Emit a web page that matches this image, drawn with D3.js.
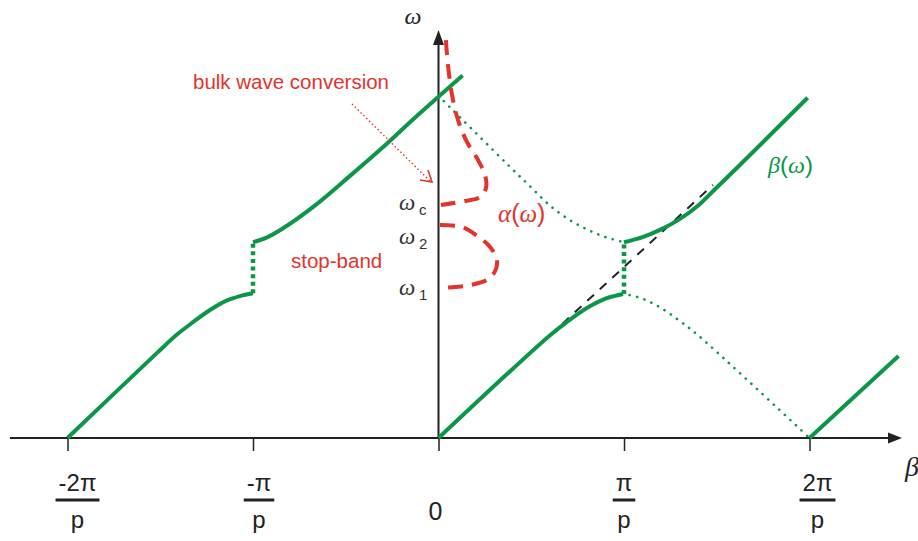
<!DOCTYPE html>
<meta charset="utf-8">
<html>
<head>
    <title>Dispersion diagram with stop-band</title>
    <script src="https://d3js.org/d3.v7.min.js"></script>
    <style>
        body { margin: 0; background: #fff; }
        text { font-family: "Liberation Sans", Arial, sans-serif; }
        .greek { font-family: "Liberation Serif", "DejaVu Serif", serif; font-style: italic; }
    </style>
</head>
<body>
<svg id="chart"></svg>
<script>
    // beta in units of pi/p, omega normalised so that the light line is omega = beta
    var lowerRight = [[0, 0], [0.6, 0.6], [0.7, 0.685], [0.8, 0.76], [0.9, 0.815], [0.995, 0.842]];
    var upperRight = [[1.0, 1.145], [1.1, 1.175], [1.2, 1.22], [1.3, 1.28], [1.4, 1.36], [1.5, 1.465], [1.6, 1.57], [1.99, 1.99]];
    var lowerLeft = [[-2, 0], [-1.52, 0.495], [-1.41, 0.605], [-1.32, 0.68], [-1.23, 0.75], [-1.14, 0.805], [-1.07, 0.83], [-1.0, 0.846]];
    var upperLeft = [[-1.0, 1.145], [-0.93, 1.17], [-0.84, 1.225], [-0.66, 1.365], [-0.48, 1.53], [-0.3, 1.7], [-0.12, 1.88], [0.13, 2.12]];
    var nextBand = [[2.0, 0], [2.48, 0.48]];
    var lightLine = [[0.6, 0.6], [1.48, 1.48]];

    // attenuation alpha(omega), alpha in the same units as beta
    var alphaLeaky = [[0.040, 2.327], [0.051, 2.181], [0.073, 2.006], [0.105, 1.86], [0.154, 1.73], [0.213, 1.626],
                      [0.251, 1.537], [0.256, 1.462], [0.224, 1.409], [0.143, 1.386], [0.013, 1.363]];
    var alphaStop = [[0.008, 1.245], [0.127, 1.234], [0.202, 1.187], [0.278, 1.117], [0.315, 1.041], [0.305, 0.976],
                     [0.261, 0.924], [0.17, 0.894], [0.089, 0.883], [0.013, 0.877]];

    var omegaMarks = [{sub: "c", w: 1.37}, {sub: "2", w: 1.17}, {sub: "1", w: 0.87}];

    var tickValues = [-2, -1, 0, 1, 2];
    var tickTop = ["-2π", "-π", "0", "π", "2π"];
    var tickBottom = ["p", "p", "", "p", "p"];
    var labelShift = [10, 6, -3, 0, 8];

    var green = "#0c9647", red = "#e2332c";
    var width = 918, height = 541;

    var svg = d3.select("#chart")
        .attr("width", width)
        .attr("height", height);

    var x = d3.scaleLinear().domain([0, 1]).range([438.5, 624]);
    var y = d3.scaleLinear().domain([0, 1]).range([438, 267]);

    var line = d3.line()
        .x(function(d) { return x(d[0]); })
        .y(function(d) { return y(d[1]); })
        .curve(d3.curveCatmullRom.alpha(0.5));

    // mirror a branch around beta = 1 (zone boundary)
    function mirror(arr) {
        return arr.map(function(d) { return [2 - d[0], d[1]]; }).reverse();
    }

    // axes
    var axisG = svg.append("g").attr("transform", "translate(0," + y(0) + ")");
    axisG.call(d3.axisBottom(x).tickValues(tickValues).tickSize(13).tickFormat(""))
        .call(function(g) { g.select(".domain").remove(); })
        .selectAll("line").attr("stroke", "#222").attr("stroke-width", 1.5);

    svg.append("line")
        .attr("x1", 10).attr("x2", 890)
        .attr("y1", y(0)).attr("y2", y(0))
        .attr("stroke", "#222").attr("stroke-width", 2);
    svg.append("path")
        .attr("d", "M902," + y(0) + "L888," + (y(0) - 5.5) + "L888," + (y(0) + 5.5) + "Z")
        .attr("fill", "#222");

    svg.append("line")
        .attr("x1", x(0)).attr("x2", x(0))
        .attr("y1", y(0)).attr("y2", 44)
        .attr("stroke", "#222").attr("stroke-width", 2);
    svg.append("path")
        .attr("d", "M" + x(0) + ",30L" + (x(0) - 5.5) + ",45L" + (x(0) + 5.5) + ",45Z")
        .attr("fill", "#222");

    // tick labels as fractions
    var tl = svg.append("g").selectAll("g")
        .data(tickValues)
        .enter().append("g")
        .attr("transform", function(d, i) { return "translate(" + (x(d) + labelShift[i]) + ",0)"; });

    tl.each(function(d, i) {
        var g = d3.select(this);
        if (tickBottom[i] === "") {
            g.append("text").attr("y", 520).attr("text-anchor", "middle")
                .style("font-size", "25px").attr("fill", "#222").text(tickTop[i]);
            return;
        }
        var t = g.append("text").attr("y", 491).attr("text-anchor", "middle")
            .style("font-size", "24px").attr("fill", "#222").text(tickTop[i]);
        var w = t.node().getComputedTextLength() + 6;
        g.append("line").attr("x1", -w / 2).attr("x2", w / 2)
            .attr("y1", 500).attr("y2", 500)
            .attr("stroke", "#222").attr("stroke-width", 3);
        g.append("text").attr("y", 528).attr("text-anchor", "middle")
            .style("font-size", "24px").attr("fill", "#222").text(tickBottom[i]);
    });

    svg.append("text").attr("class", "greek")
        .attr("x", 905).attr("y", 476)
        .style("font-size", "28px").attr("fill", "#222").text("β");
    svg.append("text").attr("class", "greek")
        .attr("x", 413).attr("y", 24).attr("text-anchor", "middle")
        .style("font-size", "24px").attr("fill", "#222").text("ω");

    // black dashed light line
    svg.append("path").datum(lightLine)
        .attr("d", line)
        .attr("fill", "none").attr("stroke", "#222")
        .attr("stroke-width", 2).attr("stroke-dasharray", "9 8");

    // green dotted mirrored branches
    [mirror(upperRight), mirror(lowerRight)].forEach(function(arr) {
        svg.append("path").datum(arr)
            .attr("d", line)
            .attr("fill", "none").attr("stroke", green)
            .attr("stroke-width", 2.6).attr("stroke-linecap", "round")
            .attr("stroke-dasharray", "0.1 7.5")
            .attr("stroke-dashoffset", -5);
    });

    // stop-band edges
    [[-1, lowerLeft, upperLeft], [1, lowerRight, upperRight]].forEach(function(s) {
        var lo = s[1][s[1].length - 1][1], hi = s[2][0][1];
        svg.append("line")
            .attr("x1", x(s[0])).attr("x2", x(s[0]))
            .attr("y1", y(lo)).attr("y2", y(hi))
            .attr("stroke", green).attr("stroke-width", 4.5)
            .attr("stroke-dasharray", "4 3.6");
    });

    // green solid branches
    [lowerRight, upperRight, lowerLeft, upperLeft, nextBand].forEach(function(arr) {
        svg.append("path").datum(arr)
            .attr("d", line)
            .attr("fill", "none").attr("stroke", green)
            .attr("stroke-width", 4).attr("stroke-linecap", "butt");
    });

    // red alpha curves
    [alphaLeaky, alphaStop].forEach(function(arr) {
        svg.append("path").datum(arr)
            .attr("d", line)
            .attr("fill", "none").attr("stroke", red)
            .attr("stroke-width", 4).attr("stroke-dasharray", "15 9");
    });

    // omega labels on the axis
    var om = svg.append("g").selectAll("g")
        .data(omegaMarks)
        .enter().append("g")
        .attr("transform", function(d) { return "translate(399," + (y(d.w) + 6) + ")"; });
    om.append("text").attr("class", "greek")
        .style("font-size", "23px").attr("fill", "#333").text("ω");
    om.append("text").attr("x", 20).attr("y", 5)
        .style("font-size", "15px").attr("fill", "#333")
        .text(function(d) { return d.sub; });

    // annotations
    svg.append("text").attr("x", 193).attr("y", 89)
        .style("font-size", "20.5px").attr("fill", red).text("bulk wave conversion");
    svg.append("line")
        .attr("x1", 352).attr("y1", 104).attr("x2", 431).attr("y2", 182)
        .attr("stroke", red).attr("stroke-width", 1.4).attr("stroke-dasharray", "1.5 2.5");
    svg.append("path")
        .attr("d", "M428,170L432,182L420,180")
        .attr("fill", "none").attr("stroke", red).attr("stroke-width", 1.6);

    svg.append("text").attr("x", 291).attr("y", 268)
        .style("font-size", "20.5px").attr("fill", red).text("stop-band");

    var a = svg.append("text").attr("x", 498).attr("y", 222)
        .style("font-size", "25px").attr("fill", red);
    a.append("tspan").attr("class", "greek").text("α");
    a.append("tspan").text("(");
    a.append("tspan").attr("class", "greek").text("ω");
    a.append("tspan").text(")");

    var b = svg.append("text").attr("x", 768).attr("y", 173)
        .style("font-size", "24px").attr("fill", green);
    b.append("tspan").attr("class", "greek").text("β");
    b.append("tspan").text("(");
    b.append("tspan").attr("class", "greek").text("ω");
    b.append("tspan").text(")");
</script>
</body>
</html>
